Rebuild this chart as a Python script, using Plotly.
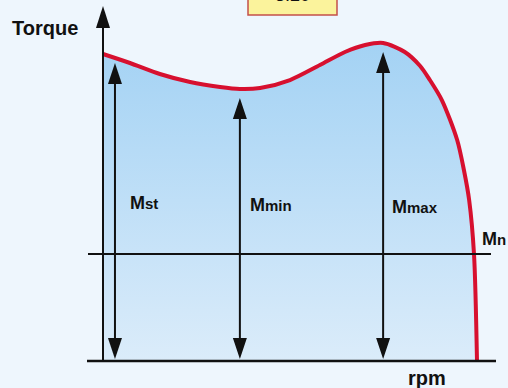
import plotly.graph_objects as go

# ---- data (torque in % of rated torque Mn, speed in % of synchronous speed)
rpm = [0, 7.2, 15.2, 23.3, 31.3, 36.6, 42.0, 50.0, 58.0, 64.7, 70.1, 74.9,
       80.7, 84.8, 87.4, 90.6, 94.7, 96.5, 97.9, 99.2, 100]
torque = [286.9, 278.5, 268.2, 260.7, 256.1, 254.2, 255.1, 262.6, 276.6, 288.8,
          295.3, 297.2, 288.8, 275.7, 262.6, 243.9, 206.5, 178.5, 150.5, 100, 0]

marker_names = ["st", "min", "max"]
marker_rpm = [3.2, 36.6, 74.9]
marker_torque = [286.9, 254.2, 297.2]
rated_torque = 100
box_label = "3.20"

# ---- pixel <-> data helpers (plot area spans the full 508x388 canvas)
W, H = 508, 388
X0, X1 = -27.54, 108.29
Y0, Y1 = -25.23, 337.38
sx = (X1 - X0) / W   # data units per pixel
sy = (Y1 - Y0) / H

FONT = "Arial, Liberation Sans, sans-serif"
INK = "#111111"

fig = go.Figure()

fig.add_trace(go.Scatter(
    x=rpm, y=torque, mode="lines",
    line=dict(color="#d7102f", width=4, shape="spline", smoothing=0.8),
    fill="tozeroy",
    fillgradient=dict(type="vertical",
                      colorscale=[[0, "#dbecfa"], [1, "#a3d2f4"]],
                      start=0, stop=300),
    hoverinfo="skip", showlegend=False,
))

shapes = []
def arrow_head(x, tip_y, direction, length=21, width=14):
    # direction +1 = pointing up, -1 = pointing down
    base_y = tip_y - direction * length * sy
    hw = width / 2 * sx
    return dict(type="path", xref="x", yref="y",
                path=f"M {x - hw},{base_y} L {x + hw},{base_y} L {x},{tip_y} Z",
                fillcolor=INK, line=dict(width=0))

# axes
shapes.append(dict(type="line", xref="x", yref="y", x0=X0 + 87 * sx, x1=X0 + 496 * sx,
                   y0=0, y1=0, line=dict(color=INK, width=2.5)))
top_tip = Y1 - 6 * sy
shapes.append(dict(type="line", xref="x", yref="y", x0=0, x1=0, y0=0, y1=top_tip - 15 * sy,
                   line=dict(color=INK, width=2)))
shapes.append(arrow_head(0, top_tip, +1, length=22, width=14))

# rated torque line
shapes.append(dict(type="line", xref="x", yref="y", x0=X0 + 88 * sx, x1=X0 + 491 * sx,
                   y0=rated_torque, y1=rated_torque, line=dict(color=INK, width=2)))

# double arrows for Mst, Mmin, Mmax
gap_top = 9 * sy
gap_bot = 2 * sy
for xr, tq in zip(marker_rpm, marker_torque):
    t_tip = tq - gap_top
    b_tip = gap_bot
    shapes.append(dict(type="line", xref="x", yref="y", x0=xr, x1=xr,
                       y0=b_tip + 15 * sy, y1=t_tip - 15 * sy,
                       line=dict(color=INK, width=2)))
    shapes.append(arrow_head(xr, t_tip, +1))
    shapes.append(arrow_head(xr, b_tip, -1))

# yellow label box at the top (cut by the frame)
shapes.append(dict(type="rect", xref="x", yref="y",
                   x0=X0 + 248 * sx, x1=X0 + 337 * sx,
                   y0=Y1 - 15 * sy, y1=Y1 + 20 * sy,
                   fillcolor="#fbf39c", line=dict(color="#c4504a", width=1.5)))

annotations = []
def txt(text, x, y, size, xanchor="left", yanchor="middle"):
    annotations.append(dict(text=text, x=x, y=y, xref="x", yref="y", showarrow=False,
                            xanchor=xanchor, yanchor=yanchor,
                            font=dict(family=FONT, size=size, color=INK)))

txt("<b>Torque</b>", X0 + 10 * sx, Y1 - 28 * sy, 20)
txt("<b>rpm</b>", X0 + 427 * sx, Y1 - 378 * sy, 20, xanchor="center")

# partly hidden label in the yellow box (paper reference so it is not culled)
annotations.append(dict(text=box_label, x=X0 + 292 * sx, y=1 - 7 / H, xref="x", yref="paper",
                        showarrow=False, xanchor="center", yanchor="bottom",
                        font=dict(family=FONT, size=18, color=INK)))

label_px = [(128, 203), (248, 205), (390, 207)]
for name, (px, py) in zip(marker_names, label_px):
    txt(f"<b>M<span style='font-size:15px'>{name}</span></b>", X0 + px * sx, Y1 - py * sy, 18)
txt("<b>M<span style='font-size:15px'>n</span></b>", X0 + 480 * sx, Y1 - 239 * sy, 18)

fig.update_layout(
    width=W, height=H, margin=dict(l=0, r=0, t=0, b=0),
    paper_bgcolor="#eef6fd", plot_bgcolor="#eef6fd",
    xaxis=dict(range=[X0, X1], visible=False, fixedrange=True),
    yaxis=dict(range=[Y0, Y1], visible=False, fixedrange=True),
    shapes=shapes, annotations=annotations, showlegend=False,
)

fig.write_html(
    "out.html",
    config={"displayModeBar": False},
    post_script="document.body.style.margin='0px';document.body.style.background='#eef6fd';document.body.style.overflow='hidden';",
)
